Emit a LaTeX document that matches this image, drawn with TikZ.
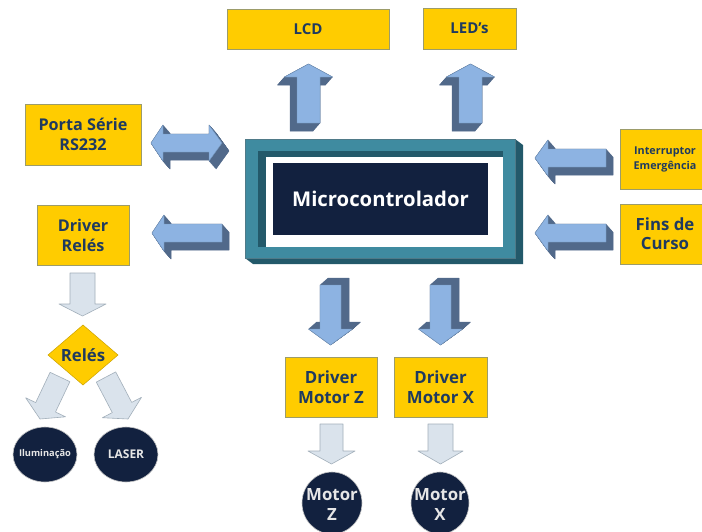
\documentclass[tikz,border=0pt]{standalone}
\usepackage{fontspec}
\setmainfont{Open Sans}
\definecolor{ybg}{HTML}{FFCC00}
\definecolor{yedge}{HTML}{9C9C6A}
\definecolor{txt}{HTML}{1F3A5F}
\definecolor{navy}{HTML}{12213F}
\definecolor{tealc}{HTML}{3F8BA0}
\definecolor{tealdk}{HTML}{23596A}
\definecolor{afront}{HTML}{8DB3E2}
\definecolor{aside}{HTML}{51698A}
\definecolor{aedge}{HTML}{7394BA}
\definecolor{lfill}{HTML}{DAE3EC}
\definecolor{ledge}{HTML}{A2AFBA}
\definecolor{ctext}{HTML}{E6E6E6}
\newcommand\fsz[2]{\bfseries\fontsize{#1}{#2}\selectfont}
% 3D up arrow, centre x
\newcommand\blkup[1]{%
  \begin{scope}[xshift=#1]
    \foreach \t in {0,1,...,16}{\filldraw[aside3d,shift={(-7*\t/16,8*\t/16)}]
      (0,64) -- (24,77) -- (11.5,77) -- (11.5,123) -- (-11.5,123) -- (-11.5,77) -- (-24,77) -- cycle;}
    \filldraw[afront3d] (0,64) -- (24,77) -- (11.5,77) -- (11.5,123) -- (-11.5,123) -- (-11.5,77) -- (-24,77) -- cycle;
  \end{scope}}
% 3D down arrow, centre x
\newcommand\blkdown[1]{%
  \begin{scope}[xshift=#1]
    \foreach \t in {0,1,...,16}{\filldraw[aside3d,shift={(8*\t/16,-7*\t/16)}]
      (-10.5,285) -- (10.5,285) -- (10.5,329) -- (22,329) -- (0,345) -- (-22,329) -- (-10.5,329) -- cycle;}
    \filldraw[afront3d] (-10.5,285) -- (10.5,285) -- (10.5,329) -- (22,329) -- (0,345) -- (-22,329) -- (-10.5,329) -- cycle;
  \end{scope}}
% 3D left arrow: tip x, head base x, end x, centre y
\newcommand\blkleft[4]{%
  \foreach \t in {0,1,...,16}{\filldraw[aside3d,shift={(7*\t/16,8*\t/16)}]
    (#1,#4) -- (#2,#4-18) -- (#2,#4-9) -- (#3,#4-9) -- (#3,#4+9) -- (#2,#4+9) -- (#2,#4+18) -- cycle;}
  \filldraw[afront3d] (#1,#4) -- (#2,#4-18) -- (#2,#4-9) -- (#3,#4-9) -- (#3,#4+9) -- (#2,#4+9) -- (#2,#4+18) -- cycle;}
\begin{document}
\begin{tikzpicture}[x=1pt,y=-1pt,
  ybox/.style={draw=yedge,fill=ybg,line width=0.6pt,text=txt,align=center,inner sep=0pt},
  ctxt/.style={text=ctext,align=center,inner sep=0pt},
  dell/.style={fill=navy,draw=gray!45,line width=0.6pt},
  afront3d/.style={fill=afront,draw=aedge,line width=0.4pt,line join=round},
  aside3d/.style={fill=aside,draw=aside,line width=0.5pt,line join=round},
  light/.style={fill=lfill,draw=ledge,line width=0.6pt,line join=round}]
\useasboundingbox (0,0) rectangle (702,531);
\fill[white] (0,0) rectangle (702,531);

% yellow boxes
\node[ybox,minimum width=162,minimum height=40,font=\fsz{15}{18}] (lcd) at (308,29) {LCD};
\node[ybox,minimum width=93,minimum height=41,font=\fsz{15}{18}] (leds) at (469.5,28.5) {LED’s};
\node[ybox,minimum width=116,minimum height=61,font=\fsz{16.2}{20}] (rs) at (83,134.5) {Porta Série\\RS232};
\node[ybox,minimum width=92,minimum height=60,font=\fsz{16.2}{20}] (drel) at (83,235) {Driver\\Relés};
\node[ybox,minimum width=90,minimum height=60,font=\fsz{10.8}{15}] (intr) at (665,159) {Interruptor\\Emergência};
\node[ybox,minimum width=90,minimum height=60,font=\fsz{16.8}{19}] (fins) at (665,234) {Fins de\\Curso};
\node[ybox,minimum width=92,minimum height=60,font=\fsz{16.8}{20}] (dmz) at (331,387) {Driver\\Motor Z};
\node[ybox,minimum width=93,minimum height=60,font=\fsz{16.8}{20}] (dmx) at (440.5,387) {Driver\\Motor X};

% microcontroller frame
\fill[tealdk] (245,139) -- (515,139) -- (523,145) -- (523,264) -- (253,264) -- (245,258) -- cycle;
\filldraw[fill=tealc,draw=tealdk!80,line width=0.4pt] (245,139) rectangle (515,258);
\fill[tealdk] (258,151) rectangle (503,247);
\fill[white] (266,157) rectangle (503,247);
\node[fill=navy,minimum width=215,minimum height=72,inner sep=0pt,text=white,font=\fsz{20.3}{24}] (mc) at (380.5,199) {Microcontrolador};

% 3D arrows
\blkup{308.5}
\blkup{470.5}
\blkdown{330.5}
\blkdown{440.5}
\blkleft{152}{164}{222}{233}
\blkleft{535}{548}{606}{158}
\blkleft{535}{548}{606}{233}
% double arrow (RS232)
\foreach \t in {0,1,...,16}{\filldraw[aside3d,shift={(7*\t/16,8*\t/16)}]
  (151,143) -- (163,125) -- (163,134) -- (209,134) -- (209,125) -- (222,143) -- (209,161) -- (209,152) -- (163,152) -- (163,161) -- cycle;}
\filldraw[afront3d] (151,143) -- (163,125) -- (163,134) -- (209,134) -- (209,125) -- (222,143) -- (209,161) -- (209,152) -- (163,152) -- (163,161) -- cycle;

% light arrows
\filldraw[light] (70,273) -- (95,273) -- (95,304) -- (106,304) -- (82.5,316) -- (59,304) -- (70,304) -- cycle;
\filldraw[light] (320,424) -- (343,424) -- (343,451) -- (355,451) -- (331.5,464) -- (308,451) -- (320,451) -- cycle;
\filldraw[light] (428,424) -- (453,424) -- (453,451) -- (463,451) -- (440.5,464) -- (418,451) -- (428,451) -- cycle;
\filldraw[light] (69.9,381.7) -- (55.5,412) -- (65.5,416.8) -- (40,419) -- (25.7,397.8) -- (35.7,402.6) -- (50.1,372.3) -- cycle;
\filldraw[light] (115.7,371.9) -- (131.7,402.4) -- (141.5,397.3) -- (128,419) -- (102.5,417.7) -- (112.3,412.6) -- (96.3,382.1) -- cycle;

% Relés diamond
\filldraw[fill=ybg,draw=ybg!80!black,line width=0.5pt] (48,355) -- (83,325) -- (118,355) -- (83,385) -- cycle;
\node[text=txt,inner sep=0pt,font=\fsz{16.8}{19}] (reles) at (83,355) {Relés};

% dark circles
\filldraw[dell] (45,454.5) ellipse [x radius=32,y radius=27.5];
\node[ctxt,font=\fsz{9.3}{11}] (ilum) at (45,454.5) {Iluminação};
\filldraw[dell] (126,454.5) ellipse [x radius=32,y radius=27.5];
\node[ctxt,font=\fsz{12}{14}] (laser) at (126,454.5) {LASER};
\filldraw[dell] (332,503) ellipse [x radius=30,y radius=31];
\node[ctxt,font=\fsz{16.8}{20}] (mz) at (332,504) {Motor\\Z};
\filldraw[dell] (440,503) ellipse [x radius=29,y radius=31];
\node[ctxt,font=\fsz{16.8}{20}] (mx) at (440,504) {Motor\\X};
\end{tikzpicture}
\end{document}
